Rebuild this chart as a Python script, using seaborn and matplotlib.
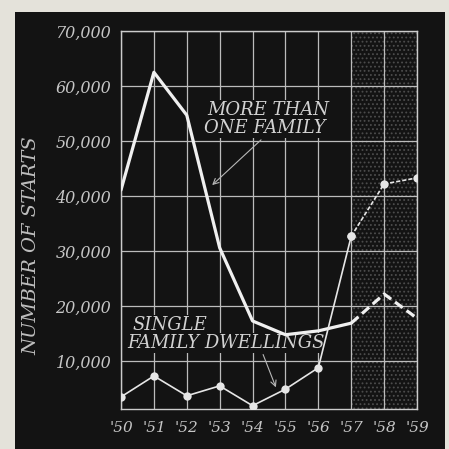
import pandas as pd
import matplotlib.pyplot as plt
import seaborn as sns
from matplotlib.patches import Rectangle

# values
years = [1950, 1951, 1952, 1953, 1954, 1955, 1956, 1957, 1958, 1959]
more_than_one = [41100, 62500, 54700, 30600, 17300, 14800, 15500, 16900, 22200, 17800]
single_family = [3500, 7300, 3700, 5500, 1900, 4900, 8800, 32700, 42200, 43300]
year_labels = ["'50", "'51", "'52", "'53", "'54", "'55", "'56", "'57", "'58", "'59"]
y_ticks = [10000, 20000, 30000, 40000, 50000, 60000, 70000]
y_labels = ["10,000", "20,000", "30,000", "40,000", "50,000", "60,000", "70,000"]
forecast_start = 1957

df = pd.DataFrame({"year": years, "more": more_than_one, "single": single_family})
actual = df[df["year"] <= forecast_start]
forecast = df[df["year"] >= forecast_start]

sns.set_style("dark")
plt.rcParams["font.family"] = ["DejaVu Serif", "DejaVu Sans"]
plt.rcParams["font.style"] = "italic"
plt.rcParams["hatch.linewidth"] = 0.8

bg = "#131313"
txt = "#c6c6c6"

fig = plt.figure(figsize=(4.49, 4.49), dpi=100, facecolor="#e4e2da")
fig.add_artist(Rectangle((15 / 449, 0), 430 / 449, 437 / 449, transform=fig.transFigure,
                         facecolor=bg, edgecolor="none", zorder=-10))
ax = fig.add_axes([121 / 449, 40 / 449, 296 / 449, 378 / 449])
ax.set_facecolor(bg)

# dotted projection zone
ax.axvspan(forecast_start, years[-1], facecolor=bg, edgecolor="#4c4c4c",
           hatch="....", lw=0, zorder=0.2)

sns.lineplot(data=actual, x="year", y="more", color="#f0f0f0", lw=2.3, ax=ax, zorder=4)
sns.lineplot(data=forecast, x="year", y="more", color="#f0f0f0", lw=2.3,
             linestyle=(0, (3, 1.5)), ax=ax, zorder=4)
sns.lineplot(data=actual, x="year", y="single", color="#e6e6e6", lw=1.2, marker="o",
             markersize=6, markeredgecolor="none", ax=ax, zorder=4)
sns.lineplot(data=forecast, x="year", y="single", color="#e6e6e6", lw=1.2, marker="o",
             markersize=6, markeredgecolor="none", linestyle=(0, (2.5, 1.2)), ax=ax, zorder=4)

ax.set_xlim(years[0], years[-1])
ax.set_ylim(1300, 70000)
ax.set_xticks(years)
ax.set_xticklabels(year_labels)
ax.set_yticks(y_ticks)
ax.set_yticklabels(y_labels)
ax.tick_params(axis="x", length=0, pad=9, labelsize=11, labelcolor=txt)
ax.tick_params(axis="y", length=0, pad=7, labelsize=11.5, labelcolor=txt)
ax.set_xlabel("")
ax.set_ylabel("")
ax.grid(True, color="#bcbcbc", lw=0.9)
ax.set_axisbelow(True)
for s in ax.spines.values():
    s.set_visible(True)
    s.set_color("#cccccc")
    s.set_linewidth(1.0)

box = dict(facecolor=bg, edgecolor="none", pad=0.5)
ax.text(1952.63, 55650, "MORE THAN", color="#d2d2d2", fontsize=13, ha="left", va="center",
        bbox=box, zorder=3)
ax.text(1952.53, 52380, "ONE FAMILY", color="#d2d2d2", fontsize=13, ha="left", va="center",
        bbox=box, zorder=3)
ax.annotate("", xy=(1952.71, 41650), xytext=(1954.32, 50560),
            arrowprops=dict(arrowstyle="->", color="#b8b8b8", lw=0.8), zorder=3)

ax.text(1950.36, 16580, "SINGLE", color="#d2d2d2", fontsize=13, ha="left", va="center",
        bbox=box, zorder=3)
ax.text(1950.18, 13310, "FAMILY DWELLINGS", color="#d2d2d2", fontsize=13, ha="left",
        va="center", bbox=box, zorder=3)
ax.annotate("", xy=(1954.74, 4770), xytext=(1954.29, 11670),
            arrowprops=dict(arrowstyle="->", color="#b8b8b8", lw=0.8), zorder=3)

fig.text(31 / 449, 1 - 246 / 449, "NUMBER OF STARTS", rotation=90, ha="center", va="center",
         color="#bdbdbd", fontsize=14)

fig.savefig("out.png", dpi=100, facecolor=fig.get_facecolor())
